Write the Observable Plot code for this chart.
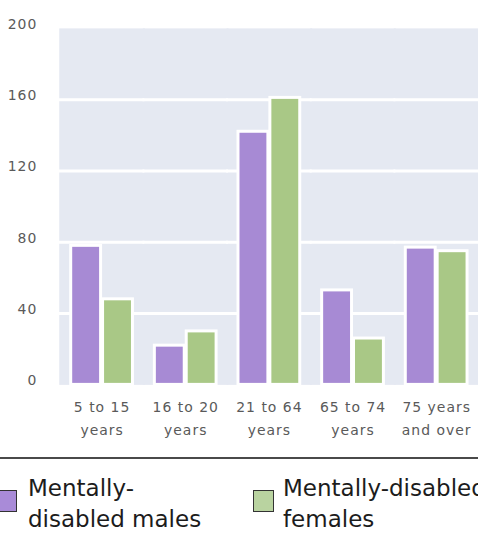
<!DOCTYPE html>
<html>
<head>
<meta charset="utf-8">
<script src="https://cdn.jsdelivr.net/npm/d3@7"></script>
<script src="https://cdn.jsdelivr.net/npm/@observablehq/plot@0.6"></script>
<style>
  html, body { margin: 0; padding: 0; background: #fff; width: 478px; height: 537px; overflow: hidden; }
  #chart svg { display: block; }
  #legend { position: relative; width: 478px; height: 82px; overflow: hidden; font-family: "DejaVu Sans", sans-serif; color: #1c1c1c; }
  #legend .divider { position: absolute; left: 0; width: 478px; top: 4px; height: 2px; background: #4a4a4a; }
  #legend .swatch { position: absolute; top: 37px; width: 21px; height: 22px; box-sizing: border-box; border: 1.5px solid #333; }
  #legend .label { position: absolute; top: 20px; white-space: pre; font-size: 23px; line-height: 31px; }
</style>
</head>
<body>
<div id="chart"></div>
<div id="legend"><div class="divider"></div></div>
<script>
// Age bands (tick labels, two lines each)
const ageGroups = ["5 to 15\nyears", "16 to 20\nyears", "21 to 64\nyears", "65 to 74\nyears", "75 years\nand over"];
// Series
const series = ["Mentally-disabled males", "Mentally-disabled females"];
const legendLabels = ["Mentally-\ndisabled males", "Mentally-disabled\nfemales"];
const males = [78, 22, 142, 53, 77];
const females = [48, 30, 161, 26, 75];
// Value axis ticks
const yTicks = [0, 40, 80, 120, 160, 200];

const barColors = ["#a78ad4", "#a9c886"];
const swatchColors = ["#a98bd8", "#b9d3a0"];

const rows = ageGroups.flatMap((g, i) => [
  {group: g, sex: series[0], value: males[i]},
  {group: g, sex: series[1], value: females[i]}
]);

const chart = Plot.plot({
  width: 480,
  height: 455,
  marginLeft: 60,
  marginRight: 0,
  marginTop: 28,
  marginBottom: 69,
  style: {fontFamily: "DejaVu Sans", fontSize: "14px", color: "#5a5a5a", letterSpacing: "1px", background: "white", overflow: "visible"},
  facet: {data: rows, x: "group"},
  fx: {domain: ageGroups, padding: 0, axis: null},
  x: {domain: series, paddingInner: 0.0625, paddingOuter: 0.34375, axis: null},
  y: {domain: [0, 200], ticks: yTicks, tickSize: 0, tickPadding: 23, label: null},
  color: {domain: series, range: barColors},
  marks: [
    // plot background, overlapping slightly so adjacent panels join without seams
    Plot.frame({fill: "#e5e9f2", stroke: "none", insetLeft: -1, insetRight: -1}),
    Plot.ruleY(yTicks.filter(v => v > 0 && v < 200), {stroke: "white", strokeWidth: 3, insetLeft: -1, insetRight: -1}),
    Plot.barY(rows, {x: "sex", y: "value", fill: "sex", stroke: "white", strokeWidth: 3}),
    Plot.text(rows, {
      filter: d => d.sex === series[0],
      text: "group",
      frameAnchor: "bottom",
      lineAnchor: "top",
      lineHeight: 1.7,
      dy: 10
    })
  ]
});

// nudge the value labels slightly above their gridlines
chart.querySelectorAll("g[aria-label^='y-axis']").forEach(g => {
  const t = g.getAttribute("transform") || "";
  g.setAttribute("transform", (t + " translate(0,-4)").trim());
});
document.getElementById("chart").appendChild(chart);

// Legend below the chart
const legend = document.getElementById("legend");
const swatchLeft = [-4, 253];
const labelLeft = [28, 283];
series.forEach((s, i) => {
  const sw = document.createElement("div");
  sw.className = "swatch";
  sw.style.left = swatchLeft[i] + "px";
  sw.style.background = swatchColors[i];
  legend.appendChild(sw);
  const lb = document.createElement("div");
  lb.className = "label";
  lb.style.left = labelLeft[i] + "px";
  lb.textContent = legendLabels[i];
  legend.appendChild(lb);
});
</script>
</body>
</html>
